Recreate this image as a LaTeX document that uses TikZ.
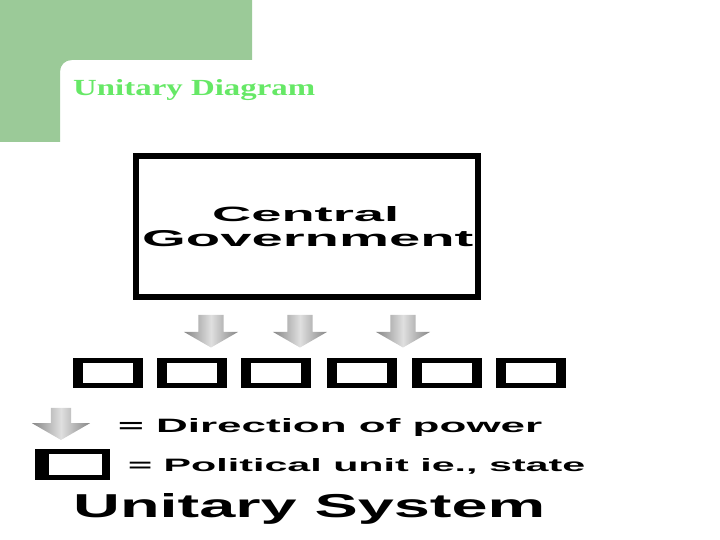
\documentclass[tikz,border=0pt]{standalone}
\usepackage{fontspec}
\usepackage{graphicx}
\setmainfont{Liberation Serif}
\setsansfont{Liberation Sans}
\usetikzlibrary{shapes.arrows, calc}
\definecolor{slideGreen}{RGB}{155, 202, 152}
\definecolor{titleGreen}{RGB}{102, 232, 102}
\newcommand{\fitted}[3]{\resizebox{#1}{#2}{#3}}

\begin{document}
\begin{tikzpicture} [
        x=1pt, y=-1pt,
        power/.style={single arrow, shape border rotate=270, inner sep=12.5pt,
            single arrow tip angle=120, minimum height=31pt, minimum width=54pt,
            single arrow head extend=14.5pt,
            left color=gray!95, right color=gray!95, middle color=gray!25},
        unit/.style={fill=black, minimum width=70pt, minimum height=30pt, inner sep=0pt},
        txt/.style={anchor=base west, inner sep=0pt, font=\sffamily\bfseries}
    ]
        \useasboundingbox (0,0) rectangle (720,540);

        % slide corner
        \fill[slideGreen] (0,0) -- (252,0) -- (252,60) -- (72,60)
            .. controls (65,60) and (60,65) .. (60,72) -- (60,142) -- (0,142) -- cycle;
        \node[anchor=base west, inner sep=0pt, text=titleGreen, font=\bfseries] (title) at (73,96) {\fitted{242pt}{16pt}{Unitary Diagram}};

        % central government
        \node[draw, line width=6pt, minimum width=342pt, minimum height=141pt] (cg) at (307,226.5) {};
        \node[txt] (central) at (212,222) {\fitted{187pt}{15pt}{Central}};
        \node[txt] (govt) at (142,247) {\fitted{331pt}{16pt}{Government}};

        % direction of power
        \foreach \x [count=\i] in {211, 300, 403} {
            \node[power] (pw\i) at (\x,327.5) {};
        }

        % political units
        \foreach \x [count=\i] in {108, 192, 276, 362, 447, 531} {
            \node[unit] (u\i) at (\x,373) {};
            \fill[white] ($ (u\i.south west) + (10,-5) $) rectangle ($ (u\i.north east) + (-10,5) $);
        }

        % key
        \node[power, inner sep=10pt, minimum height=32pt, minimum width=58pt, single arrow head extend=19pt] (keypw) at (61,421) {};
        \node[txt] (keypwtext) at (118,432) {\fitted{424pt}{14pt}{= Direction of power}};

        \node[unit, minimum width=75pt, minimum height=31pt] (keyunit) at (72.5,464.5) {};
        \fill[white] ($ (keyunit.south west) + (14,-5) $) rectangle ($ (keyunit.north east) + (-8,5) $);
        \node[txt] (keyunittext) at (128,471) {\fitted{457pt}{13pt}{= Political unit ie., state}};

        \node[txt] (system) at (73,517) {\fitted{472pt}{24pt}{Unitary System}};
    \end{tikzpicture}
\end{document}
